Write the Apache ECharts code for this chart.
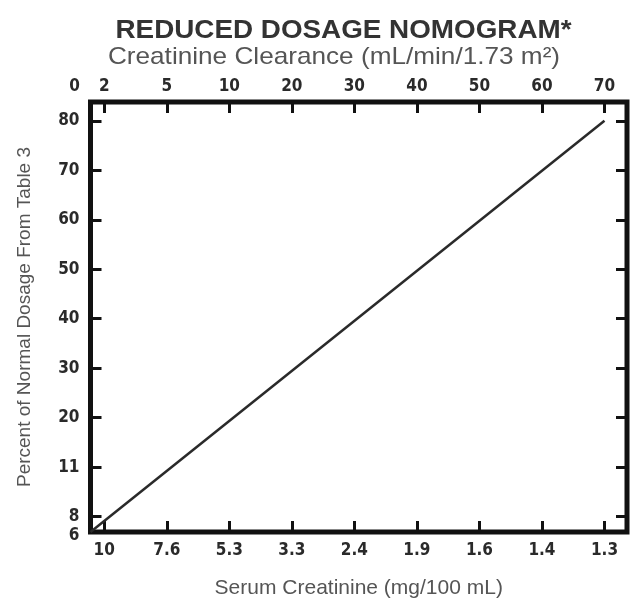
<!DOCTYPE html>
<html lang="en">
<head>
<meta charset="UTF-8">
<title>Reduced Dosage Nomogram</title>
<script src="https://cdn.jsdelivr.net/npm/echarts@6/dist/echarts.min.js"></script>
<style>html,body{margin:0;padding:0;background:#fff;}</style>
</head>
<body>
<div id="main" style="width:634px;height:604px;"></div>
<script>
// tick labels of the three scales (equally spaced slots 0..8)
var clearanceTicks = ['2', '5', '10', '20', '30', '40', '50', '60', '70'];
var creatinineTicks = ['10', '7.6', '5.3', '3.3', '2.4', '1.9', '1.6', '1.4', '1.3'];
var percentTicks = ['8', '11', '20', '30', '40', '50', '60', '70', '80'];
// the lower-left corner of the frame
var cornerClearance = '0';
var cornerPercent = '6';
// the nomogram line: from (0 mL/min, 6 %) up to (70 mL/min, 80 %)
var lineClearance = ['0', '70'];
var linePercent = ['6', '80'];

var X_MIN = -0.22, X_MAX = 8.36, Y_MIN = -0.31, Y_MAX = 8.38;
var slots = clearanceTicks.map(function (t, i) { return i; });

function xOf(c) { return c === cornerClearance ? X_MIN : clearanceTicks.indexOf(c); }
function yOf(p) { return p === cornerPercent ? Y_MIN : percentTicks.indexOf(p); }
var lineData = lineClearance.map(function (c, i) { return [xOf(c), yOf(linePercent[i])]; });

var numFont = '"Liberation Sans Narrow", "DejaVu Sans Condensed", sans-serif';
var txtFont = '"Liberation Sans", Arial, sans-serif';
var frame = '#111';
var ink = '#2a2a2a';

function tick() {
    return { show: true, inside: true, length: 11, customValues: slots, lineStyle: { color: frame, width: 3 } };
}
var noLine = { show: false, onZero: false };

var myChart = echarts.init(document.getElementById('main'));
myChart.setOption({
    animation: false,
    grid: { left: 90.5, right: 7, top: 102, bottom: 72, show: true, borderWidth: 5, borderColor: frame, backgroundColor: 'transparent' },
    graphic: [
        { type: 'text', x: 343.5, y: 31, scaleX: 1.07, style: { text: 'REDUCED DOSAGE NOMOGRAM*', font: 'bold 26px ' + txtFont, fill: '#333', textAlign: 'center', textVerticalAlign: 'middle' } },
        { type: 'text', x: 334, y: 57, scaleX: 1.09, style: { text: 'Creatinine Clearance (mL/min/1.73 m²)', font: '24px ' + txtFont, fill: '#555', textAlign: 'center', textVerticalAlign: 'middle' } }
    ],
    xAxis: [{
        type: 'value', position: 'top', min: X_MIN, max: X_MAX,
        splitLine: { show: false }, axisLine: noLine, axisTick: tick(),
        axisLabel: {
            customValues: [X_MIN].concat(slots), margin: 7,
            fontFamily: numFont, fontWeight: 'bold', fontSize: 17, color: ink,
            formatter: function (v) {
                if (v < -0.1) return '{c|' + cornerClearance + '}';
                return clearanceTicks[Math.round(v)];
            },
            rich: { c: { padding: [0, 32, 0, 0], fontFamily: numFont, fontWeight: 'bold', fontSize: 17, color: ink } }
        }
    }, {
        type: 'value', position: 'bottom', min: X_MIN, max: X_MAX,
        name: 'Serum Creatinine (mg/100 mL)', nameLocation: 'middle', nameGap: 46,
        nameTextStyle: { fontFamily: txtFont, fontSize: 21, color: '#555' },
        splitLine: { show: false }, axisLine: noLine, axisTick: tick(),
        axisLabel: {
            customValues: slots, margin: 10,
            fontFamily: numFont, fontWeight: 'bold', fontSize: 17, color: ink,
            formatter: function (v) { return creatinineTicks[Math.round(v)]; }
        }
    }],
    yAxis: [{
        type: 'value', position: 'left', min: Y_MIN, max: Y_MAX,
        name: 'Percent of Normal Dosage From Table 3', nameLocation: 'middle', nameGap: 56,
        nameTextStyle: { fontFamily: txtFont, fontSize: 19, color: '#555' },
        splitLine: { show: false }, axisLine: noLine, axisTick: tick(),
        axisLabel: {
            customValues: [Y_MIN].concat(slots), margin: 11,
            fontFamily: numFont, fontWeight: 'bold', fontSize: 17, color: ink,
            formatter: function (v) {
                if (v < -0.1) return '{c|' + cornerPercent + '}';
                return percentTicks[Math.round(v)];
            },
            rich: { c: { padding: [8, 0, 0, 0], fontFamily: numFont, fontWeight: 'bold', fontSize: 17, color: ink } }
        }
    }, {
        type: 'value', position: 'right', min: Y_MIN, max: Y_MAX,
        splitLine: { show: false }, axisLine: noLine, axisTick: tick(),
        axisLabel: { show: false }
    }],
    series: [{
        type: 'line', xAxisIndex: 1, yAxisIndex: 0,
        data: lineData, showSymbol: false, silent: true,
        lineStyle: { color: '#2a2a2a', width: 2.5 }
    }]
});
</script>
</body>
</html>
